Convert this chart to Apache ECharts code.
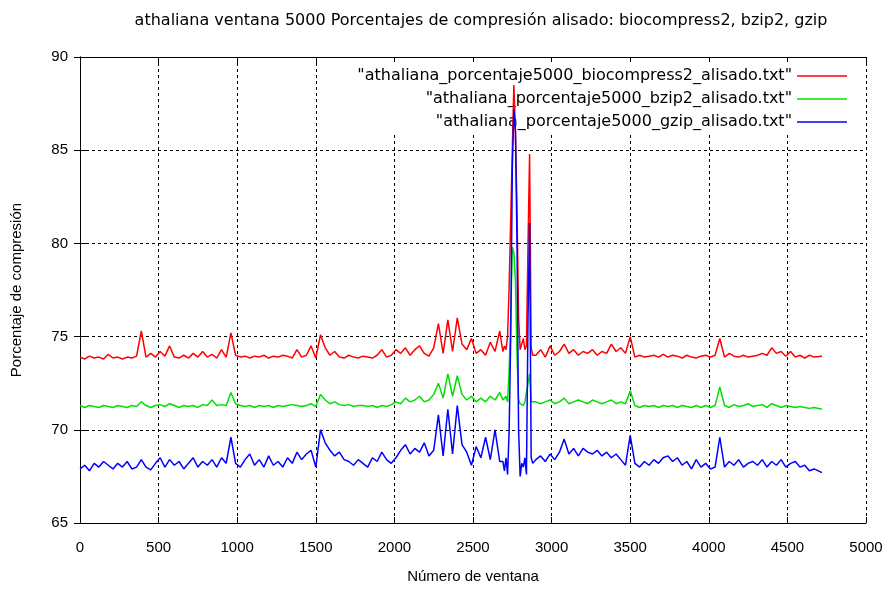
<!DOCTYPE html>
<html>
<head>
<meta charset="utf-8">
<script src="https://cdn.jsdelivr.net/npm/echarts@6/dist/echarts.min.js"></script>
<style>
  html, body { margin: 0; padding: 0; background: #fff; }
  #chart { width: 894px; height: 589px; }
</style>
</head>
<body>
<div id="chart"></div>
<script>
// numero de ventana (eje x)
const ventanas = [
  0, 30, 60, 90, 120, 150, 180, 210, 240, 270,
  300, 330, 360, 390, 420, 450, 480, 510, 540, 570,
  600, 630, 660, 690, 720, 750, 780, 810, 840, 870,
  900, 930, 960, 990, 1020, 1050, 1080, 1110, 1140, 1170,
  1200, 1230, 1260, 1290, 1320, 1350, 1380, 1410, 1440, 1470,
  1500, 1530, 1560, 1590, 1620, 1650, 1680, 1710, 1740, 1770,
  1800, 1830, 1860, 1890, 1920, 1950, 1980, 2010, 2040, 2070,
  2100, 2130, 2160, 2190, 2220, 2250, 2280, 2310, 2340, 2370,
  2400, 2430, 2460, 2490, 2520, 2550, 2580, 2610, 2640, 2670,
  // zona de picos
  2690, 2700, 2710, 2720, 2730, 2740, 2750, 2760, 2770, 2780,
  2790, 2800, 2810, 2820, 2830, 2840, 2850, 2860, 2870, 2880,
  2900, 2930, 2960, 2990, 3020, 3050, 3080, 3110, 3140, 3170,
  3200, 3230, 3260, 3290, 3320, 3350, 3380, 3410, 3440, 3470,
  3500, 3530, 3560, 3590, 3620, 3650, 3680, 3710, 3740, 3770,
  3800, 3830, 3860, 3890, 3920, 3950, 3980, 4010, 4040, 4070,
  4100, 4130, 4160, 4190, 4220, 4250, 4280, 4310, 4340, 4370,
  4400, 4430, 4460, 4490, 4520, 4550, 4580, 4610, 4640, 4670,
  4720
];

const biocompress2 = [
  73.9, 73.8, 73.95, 73.85, 73.9, 73.8, 74.05, 73.85, 73.9, 73.8,
  73.9, 73.85, 73.95, 75.3, 73.9, 74.1, 73.9, 74.2, 73.95, 74.5,
  73.9, 73.85, 74.0, 73.85, 74.1, 73.9, 74.2, 73.9, 74.05, 73.85,
  74.3, 73.9, 75.2, 74.0, 73.9, 73.95, 73.85, 73.95, 73.9, 74.0,
  73.85, 73.95, 73.9, 74.0, 73.95, 73.85, 74.3, 73.9, 74.0, 74.5,
  73.85, 75.1, 74.4, 74.0, 74.2, 73.9, 73.85, 74.0, 73.9, 73.85,
  73.95, 73.9, 73.85, 74.0, 74.3, 73.9, 74.0, 74.3, 74.1, 74.4,
  74.0, 74.3, 74.5, 74.1, 73.95, 74.4, 75.7, 74.1, 75.9, 74.2,
  76.0, 74.6, 74.3, 74.9, 74.1, 74.3, 74.0, 74.7, 74.2, 75.3,
  74.2, 74.5, 74.3, 75.0, 77.7, 77.6, 85.0, 88.5, 86.0, 81.8,
  76.0, 74.3, 74.2, 74.9, 74.3, 74.5, 80.0, 84.8, 74.4, 74.0,
  74.0, 74.3, 73.9, 74.5, 74.0, 74.2, 74.6, 74.1, 74.3, 74.0,
  74.2, 74.1, 74.3, 74.0, 74.2, 74.1, 74.6, 74.2, 74.4, 74.1,
  75.0, 73.9, 74.0, 73.9, 73.95, 74.0, 73.9, 74.05, 73.9, 74.0,
  73.95, 73.85, 74.0, 73.9, 73.85, 73.95, 74.0, 73.9, 74.0, 74.9,
  73.9, 74.1, 73.95, 73.9, 74.0, 73.9, 73.95, 74.0, 74.1, 74.0,
  74.4, 74.1, 74.2, 73.95, 74.2, 73.9, 74.0, 73.85, 74.0, 73.9,
  73.95
];

const bzip2 = [
  71.3, 71.2, 71.3, 71.25, 71.2, 71.3, 71.25, 71.2, 71.3, 71.25,
  71.2, 71.3, 71.25, 71.5, 71.3, 71.2, 71.3, 71.35, 71.25, 71.4,
  71.3, 71.2, 71.3, 71.25, 71.3, 71.2, 71.35, 71.3, 71.6, 71.3,
  71.35, 71.3, 72.0, 71.4, 71.3, 71.25, 71.3, 71.2, 71.3, 71.25,
  71.3, 71.2, 71.3, 71.25, 71.3, 71.35, 71.3, 71.25, 71.3, 71.4,
  71.25, 71.9, 71.6, 71.4, 71.5, 71.35, 71.3, 71.35, 71.25, 71.3,
  71.3, 71.25, 71.3, 71.2, 71.3, 71.25, 71.35, 71.5, 71.4, 71.7,
  71.5, 71.6, 71.8, 71.5, 71.6, 71.9, 72.5, 71.7, 73.0, 71.8,
  72.9, 71.9, 71.6, 71.8, 71.5, 71.7, 71.5, 71.8, 71.6, 72.0,
  71.6, 71.5, 71.8, 71.5, 73.2, 76.0, 79.8, 79.5, 78.0, 74.0,
  71.6, 71.4, 71.5, 71.3, 71.5, 71.4, 72.5, 73.0, 71.5, 71.4,
  71.5, 71.4, 71.5, 71.6, 71.4, 71.5, 71.7, 71.4, 71.5, 71.6,
  71.5, 71.4, 71.6, 71.5, 71.4, 71.5, 71.6, 71.4, 71.5, 71.4,
  72.1, 71.3, 71.2, 71.3, 71.25, 71.3, 71.2, 71.3, 71.25, 71.3,
  71.2, 71.3, 71.25, 71.2, 71.3, 71.2, 71.3, 71.2, 71.3, 72.3,
  71.3, 71.2, 71.35, 71.25, 71.3, 71.4, 71.25, 71.3, 71.35, 71.2,
  71.4, 71.3, 71.2, 71.3, 71.25, 71.2, 71.25, 71.2, 71.15, 71.2,
  71.1
];

const gzip = [
  67.9, 68.1, 67.8, 68.2, 68.0, 68.3, 68.1, 67.9, 68.2, 68.0,
  68.3, 67.9, 68.0, 68.4, 68.0, 67.85, 68.2, 68.5, 68.0, 68.4,
  68.1, 68.3, 67.9, 68.2, 68.5, 68.0, 68.3, 68.1, 68.4, 68.0,
  68.5, 68.2, 69.6, 68.2, 68.0, 68.4, 68.7, 68.1, 68.4, 68.0,
  68.6, 68.1, 68.3, 68.0, 68.5, 68.2, 68.8, 68.4, 68.7, 68.9,
  68.0, 70.0, 69.3, 68.9, 68.6, 68.8, 68.4, 68.3, 68.1, 68.4,
  68.2, 68.0, 68.5, 68.3, 68.8, 68.4, 68.2, 68.5, 68.9, 69.2,
  68.7, 69.0, 68.8, 69.3, 68.6, 68.9, 70.8, 68.6, 71.1, 68.7,
  71.3, 69.2, 68.8, 68.1, 69.1, 68.5, 69.6, 68.4, 70.0, 68.3,
  68.3, 67.8, 68.5, 67.6, 70.0, 75.0, 84.0, 87.2, 86.0, 80.0,
  70.0, 67.5, 68.2, 68.0, 68.5, 67.6, 76.0, 81.1, 68.5, 68.2,
  68.4, 68.6, 68.3, 68.7, 68.4, 68.8, 69.5, 68.7, 69.0, 68.6,
  69.0, 68.8, 68.7, 68.9, 68.6, 68.8, 68.5, 68.7, 68.4, 68.1,
  69.7, 68.2, 68.0, 68.3, 68.1, 68.4, 68.2, 68.5, 68.6, 68.3,
  68.5, 68.1, 68.3, 67.9, 68.4, 68.0, 68.2, 67.9, 68.0, 69.6,
  68.0, 68.3, 68.1, 68.4, 68.0, 68.2, 68.3, 68.1, 68.4, 68.0,
  68.3, 68.1, 68.4, 68.0, 68.2, 68.3, 68.0, 68.1, 67.8, 67.9,
  67.7
];

const nombres = [
  '"athaliana_porcentaje5000_biocompress2_alisado.txt"',
  '"athaliana_porcentaje5000_bzip2_alisado.txt"',
  '"athaliana_porcentaje5000_gzip_alisado.txt"'
];
const colores = ['#ff0000', '#00e000', '#0000ff'];
const valores = [biocompress2, bzip2, gzip];

const chart = echarts.init(document.getElementById('chart'));

const fuenteTicks = 'Liberation Sans';
const fuente = 'DejaVu Sans';

const ejeX = {
  type: 'value', min: 0, max: 5000, interval: 500,
  axisLine: { lineStyle: { color: '#000', width: 1 } },
  axisTick: { inside: true, length: 6, lineStyle: { color: '#000' } },
  splitLine: { show: false }
};
const ejeY = {
  type: 'value', min: 65, max: 90, interval: 5,
  axisLine: { show: true, lineStyle: { color: '#000', width: 1 } },
  axisTick: { show: true, inside: true, length: 6, lineStyle: { color: '#000' } },
  splitLine: { show: false }
};

chart.setOption({
  animation: false,
  backgroundColor: '#fff',
  title: {
    text: 'athaliana ventana 5000 Porcentajes de compresión alisado: biocompress2, bzip2, gzip',
    left: 476, top: 8, textAlign: 'center',
    textStyle: { fontFamily: fuente, fontSize: 16, fontWeight: 'normal', color: '#000' }
  },
  grid: { left: 80, right: 28, top: 57, bottom: 63 },
  xAxis: [
    Object.assign({}, ejeX, {
      position: 'bottom',
      name: 'Número de ventana', nameLocation: 'middle', nameGap: 46,
      nameTextStyle: { fontFamily: fuenteTicks, fontSize: 15, color: '#000' },
      axisLabel: { fontFamily: fuenteTicks, fontSize: 15, color: '#000', margin: 17,
                   formatter: v => String(v) },
      splitLine: { show: true, lineStyle: { color: '#000', type: [3, 3], width: 1 } }
    }),
    Object.assign({}, ejeX, { position: 'top', axisLabel: { show: false } })
  ],
  yAxis: [
    Object.assign({}, ejeY, {
      position: 'left',
      name: 'Porcentaje de compresión', nameLocation: 'middle', nameGap: 56,
      nameTextStyle: { fontFamily: fuenteTicks, fontSize: 15, color: '#000' },
      axisLabel: { fontFamily: fuenteTicks, fontSize: 15, color: '#000', margin: 12 },
      splitLine: { show: true, lineStyle: { color: '#000', type: [3, 3], width: 1 } }
    }),
    Object.assign({}, ejeY, { position: 'right', axisLabel: { show: false } })
  ],
  // fondo blanco de la leyenda (tapa la rejilla pero no las curvas)
  graphic: [{
    type: 'rect', z: 1,
    shape: { x: 342, y: 62, width: 523, height: 70 },
    style: { fill: '#fff' }
  }],
  legend: nombres.map((n, i) => ({
    data: [n],
    right: 42, top: 63 + i * 23,
    align: 'right', z: 1,
    icon: 'rect', itemWidth: 50, itemHeight: 1.5, itemGap: 6,
    textStyle: { fontFamily: fuente, fontSize: 16, color: '#000' }
  })),
  series: nombres.map((n, i) => ({
    name: n,
    type: 'line',
    showSymbol: false,
    color: colores[i],
    lineStyle: { width: 1.5, color: colores[i] },
    data: ventanas.map((x, j) => [x, valores[i][j]])
  }))
});
</script>
</body>
</html>
